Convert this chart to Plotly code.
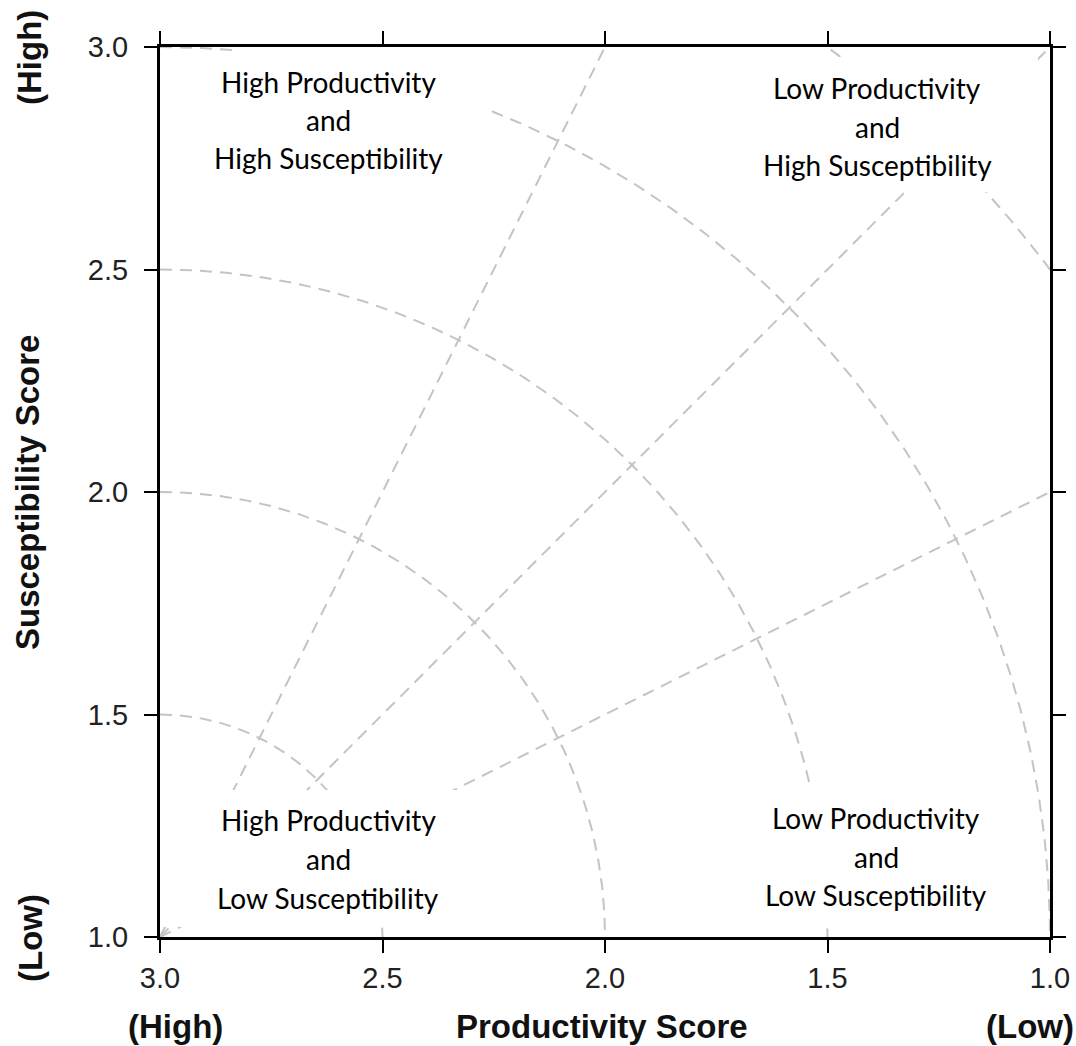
import numpy as np
import plotly.graph_objects as go

# Score scales (x runs from high productivity on the left to low on the right)
x_ticks = [3.0, 2.5, 2.0, 1.5, 1.0]
y_ticks = [1.0, 1.5, 2.0, 2.5, 3.0]
x_tick_labels = ["3.0", "2.5", "2.0", "1.5", "1.0"]
y_tick_labels = ["1.0", "1.5", "2.0", "2.5", "3.0"]

# Reference point for the distance contours and rays (high productivity, low susceptibility)
origin = (3.0, 1.0)
contour_radii = [0.5, 1.0, 1.5, 2.0, 2.5]
ray_ends = [(2.0, 3.0), (1.0, 3.0), (1.0, 2.0)]

# Quadrant captions
quadrant_text = {
    "ul": ["High Productivity", "and", "High Susceptibility"],
    "ur": ["Low Productivity", "and", "High Susceptibility"],
    "ll": ["High Productivity", "and", "Low Susceptibility"],
    "lr": ["Low Productivity", "and", "Low Susceptibility"],
}

GUIDE = dict(color="#c4c4c4", width=2, dash="12px,8px")
W, H = 1076, 1046
L, R, T, B = 160, 26, 47, 109
PW, PH = W - L - R, H - T - B


def px_to_paper(px, py):
    return (px - L) / PW, (H - B - py) / PH


fig = go.Figure()

# Concentric distance contours around the origin
theta = np.linspace(np.pi / 2, 0, 300)
for r in contour_radii:
    fig.add_trace(go.Scatter(
        x=origin[0] - r * np.cos(theta),
        y=origin[1] + r * np.sin(theta),
        mode="lines", line=GUIDE, hoverinfo="skip", showlegend=False,
    ))

# Rays from the origin
for ex, ey in ray_ends:
    fig.add_trace(go.Scatter(
        x=[origin[0], ex], y=[origin[1], ey],
        mode="lines", line=GUIDE, hoverinfo="skip", showlegend=False,
    ))

# White panels behind the quadrant captions (pixel extents)
panels = {
    "ul": (235, 490, 49, 185),
    "ur": (745, 1038, 57, 192),
    "ll": (162, 470, 790, 927),
    "lr": (740, 1030, 788, 927),
}
for key, (x0, x1, y0, y1) in panels.items():
    px0, py1 = px_to_paper(x0, y0)
    px1, py0 = px_to_paper(x1, y1)
    fig.add_shape(type="rect", xref="paper", yref="paper",
                  x0=px0, x1=px1, y0=py0, y1=py1,
                  fillcolor="white", line=dict(width=0), layer="above")

# Caption line positions (pixel centres)
caption_pos = {
    "ul": (328, [82, 120, 158]),
    "ur": (877, [88, 127, 165]),
    "ll": (328, [820, 859, 898]),
    "lr": (876, [818, 857, 895]),
}
for key, lines in quadrant_text.items():
    cx, ys = caption_pos[key]
    for txt, cy in zip(lines, ys):
        ax, ay = px_to_paper(cx, cy)
        fig.add_annotation(x=ax, y=ay, xref="paper", yref="paper",
                           text=txt, showarrow=False,
                           xanchor="center", yanchor="middle",
                           font=dict(family="Lato", size=28, color="#000000"))

# Axis titles and end labels
TITLE_FONT = dict(family="Liberation Sans, Arial", size=33, color="#111111")
for txt, px, py, ang in [
    ("<b>Productivity Score</b>", 602, 1026, 0),
    ("<b>(High)</b>", 175, 1026, 0),
    ("<b>(Low)</b>", 1030, 1026, 0),
    ("<b>Susceptibility Score</b>", 28, 493, -90),
    ("<b>(High)</b>", 30, 58, -90),
    ("<b>(Low)</b>", 30, 938, -90),
]:
    ax, ay = px_to_paper(px, py)
    fig.add_annotation(x=ax, y=ay, xref="paper", yref="paper", text=txt,
                       showarrow=False, xanchor="center", yanchor="middle",
                       textangle=ang, font=TITLE_FONT)

axis_common = dict(
    showline=True, linecolor="black", linewidth=3, mirror="ticks",
    ticks="outside", ticklen=13, tickwidth=1.5, tickcolor="black",
    showgrid=False, zeroline=False, automargin=False,
    tickfont=dict(family="Liberation Sans, Arial", size=29, color="#222222"),
)
fig.update_xaxes(range=[3.0, 1.0], tickvals=x_ticks, ticktext=x_tick_labels,
                 ticklabelstandoff=0, **axis_common)
fig.update_yaxes(range=[1.0, 3.0], tickvals=y_ticks, ticktext=y_tick_labels,
                 ticklabelstandoff=10, **axis_common)

fig.update_layout(
    width=W, height=H,
    margin=dict(l=L, r=R, t=T, b=B, autoexpand=False),
    plot_bgcolor="white", paper_bgcolor="white",
    showlegend=False,
)

fig.write_html("out.html")
